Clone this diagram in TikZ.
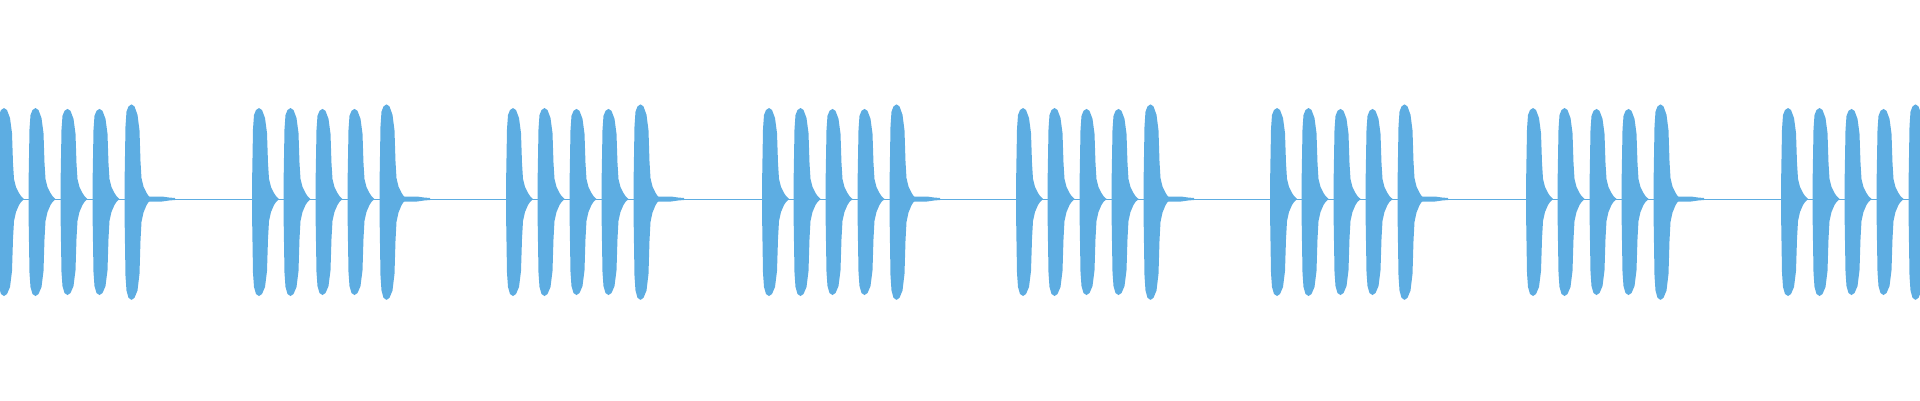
\documentclass[tikz,border=0pt]{standalone}
\definecolor{wave}{RGB}{93,173,226}
\newcommand\myburst[2]{%
\fill[wave,shift={(#1,199)},yscale=#2]
 (0,0)--(0,-12)--(1,-70)--(2,-84)--(4,-89)--(7,-91)--(10,-89)--(13,-81)--(15,-66)--(16,-36)--(17,-20)--(19,-12)--(22,-6)--(24,-3)--(26,-1)--(27,0)
 --(26,1)--(24,3)--(22,6)--(19,13)--(17,22)--(16,40)--(15,72)--(13,88)--(10,95)--(7,97)--(4,95)--(2,88)--(1,74)--(0,12)--cycle;}
\newcommand\mygroup[1]{%
\myburst{#1}{1}\myburst{#1+31.5}{1}\myburst{#1+63.5}{0.99}\myburst{#1+95.5}{0.99}\myburst{#1+127.5}{1.04}
\fill[wave,shift={(#1,199)}] (152,-2.5)--(165,-2.5)--(172,-1.5)--(178,-1)--(178,1)--(172,1.5)--(165,2.5)--(152,2.5)--cycle;}
\begin{document}
\begin{tikzpicture}[x=1pt,y=-1pt]
\useasboundingbox (0,0) rectangle (1920,400);
\draw[wave,line width=1pt] (0,199)--(1920,199);
\foreach \g in {-3,252,506,762,1016,1270,1526,1781}{\mygroup{\g}}
\end{tikzpicture}
\end{document}
